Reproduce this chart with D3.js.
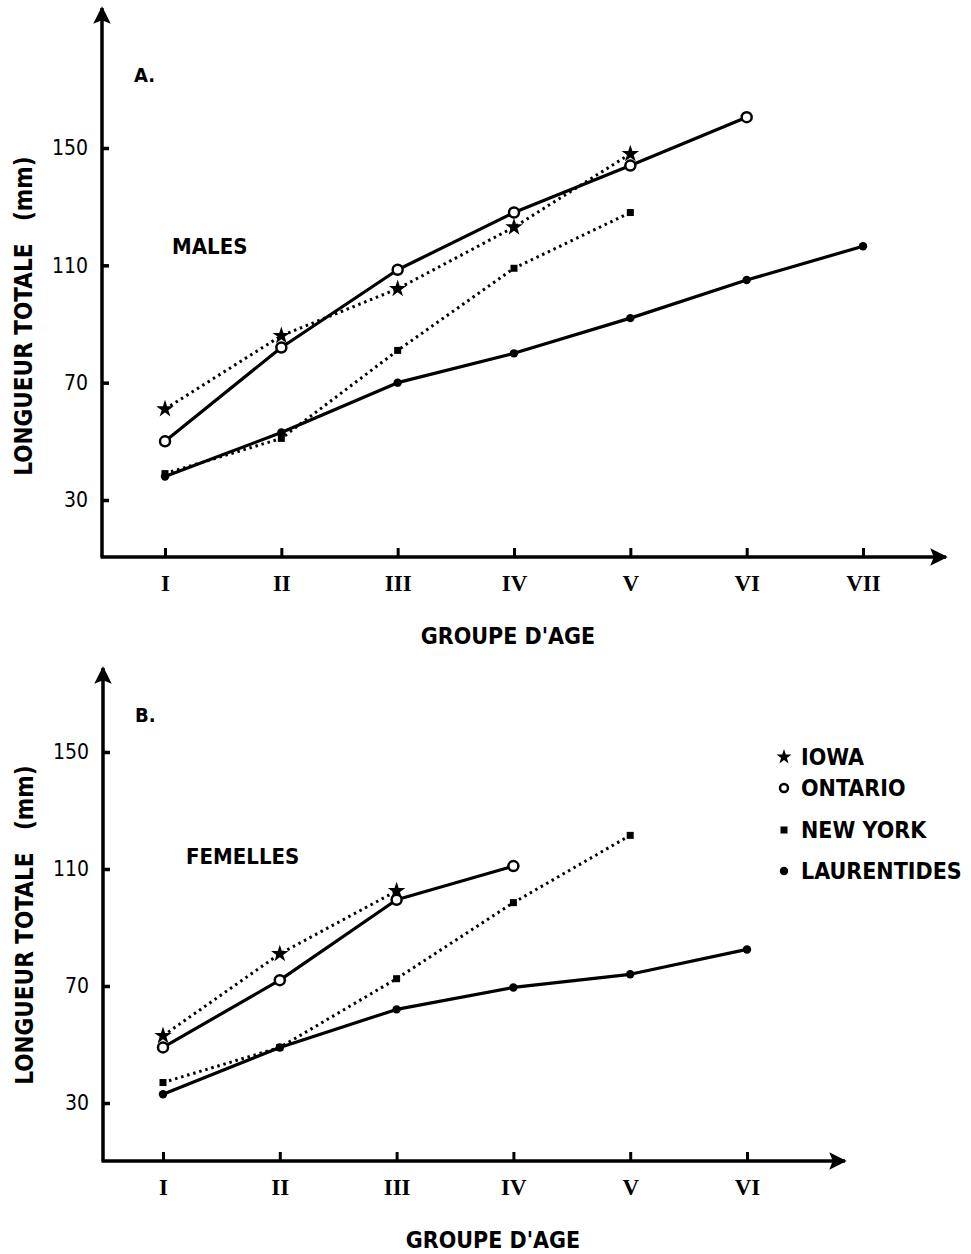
<!DOCTYPE html>
<html lang="fr">
<head>
<meta charset="UTF-8">
<title>Longueur totale par groupe d'age</title>
<script src="https://d3js.org/d3.v7.min.js"></script>
<style>
  body { margin: 0; background: #fff; }
  svg text { fill: #000; }
  .lab { font-family: "DejaVu Sans Condensed", "DejaVu Sans", sans-serif; font-stretch: condensed; font-weight: bold; }
  .roman { font-family: "Liberation Serif", "DejaVu Serif", serif; font-weight: bold; }
</style>
</head>
<body>
<div id="chart"></div>
<script>
// age groups
const groupsA = ["I", "II", "III", "IV", "V", "VI", "VII"];
const groupsB = ["I", "II", "III", "IV", "V", "VI"];
const yTicks = [30, 70, 110, 150];

// Males (mm), one value per age group
const malesIowa = [61, 86, 102, 123, 148];
const malesOntario = [50, 82, 108.5, 128, 144, 160.5];
const malesNewYork = [39, 51, 81, 109, 128];
const malesLaurentides = [38, 53, 70, 80, 92, 105, 116.5];

// Femelles (mm)
const femIowa = [53, 81, 102.5];
const femOntario = [49, 72, 99.5, 111];
const femNewYork = [37, 49, 72.5, 98.5, 121.5];
const femLaurentides = [33, 49, 62, 69.5, 74, 82.5];

const seriesNames = ["IOWA", "ONTARIO", "NEW YORK", "LAURENTIDES"];

const svg = d3.select("#chart").append("svg")
    .attr("width", 971)
    .attr("height", 1254);

svg.append("defs").append("marker")
    .attr("id", "arrow")
    .attr("viewBox", "0 0 10 10")
    .attr("refX", 9).attr("refY", 5)
    .attr("markerWidth", 5).attr("markerHeight", 5)
    .attr("markerUnits", "strokeWidth")
    .attr("orient", "auto")
  .append("path")
    .attr("d", "M0,0 L10,5 L0,10 L2,5 Z")
    .attr("fill", "#000");

const styles = {
    "IOWA": {dash: "2.5,3.8", solid: false, mark: "star"},
    "ONTARIO": {dash: null, solid: true, mark: "open"},
    "NEW YORK": {dash: "2.5,3.8", solid: false, mark: "square"},
    "LAURENTIDES": {dash: null, solid: true, mark: "dot"}
};

function drawMarker(g, type, cx, cy, small) {
    if (type === "star") {
        g.append("path")
            .attr("d", d3.symbol(d3.symbolStar, small ? 70 : 95)())
            .attr("transform", `translate(${cx},${cy})`)
            .attr("fill", "#000");
    } else if (type === "open") {
        g.append("circle").attr("cx", cx).attr("cy", cy).attr("r", small ? 4 : 5)
            .attr("fill", "#fff").attr("stroke", "#000").attr("stroke-width", 2.5);
    } else if (type === "square") {
        g.append("rect").attr("x", cx - 3.5).attr("y", cy - 3.5)
            .attr("width", 7).attr("height", 7).attr("fill", "#000");
    } else {
        g.append("circle").attr("cx", cx).attr("cy", cy).attr("r", 4.2).attr("fill", "#000");
    }
}

function panel(cfg) {
    const g = svg.append("g");
    const x = d3.scaleLinear().domain([0, cfg.groups.length - 1]).range(cfg.xRange);
    const y = d3.scaleLinear().domain([30, 150]).range(cfg.yRange);

    // y axis with arrow
    g.append("line")
        .attr("x1", cfg.axisX).attr("y1", cfg.axisY)
        .attr("x2", cfg.axisX).attr("y2", cfg.yTop)
        .attr("stroke", "#000").attr("stroke-width", 3.5)
        .attr("marker-end", "url(#arrow)");
    // x axis with arrow
    g.append("line")
        .attr("x1", cfg.axisX - 1.5).attr("y1", cfg.axisY)
        .attr("x2", cfg.xEnd).attr("y2", cfg.axisY)
        .attr("stroke", "#000").attr("stroke-width", 3.5)
        .attr("marker-end", "url(#arrow)");

    const yAxis = g.append("g")
        .attr("transform", `translate(${cfg.axisX},0)`)
        .call(d3.axisLeft(y).tickValues(yTicks).tickSizeInner(-7).tickSizeOuter(0).tickPadding(14));
    yAxis.select(".domain").remove();
    yAxis.selectAll("line").attr("stroke-width", 3.5);
    yAxis.selectAll("text")
        .style("font-size", "21px")
        .style("font-family", "'DejaVu Sans', sans-serif")
        .style("font-stretch", "condensed");

    const xAxis = g.append("g")
        .attr("transform", `translate(0,${cfg.axisY})`)
        .call(d3.axisBottom(x).tickValues(d3.range(cfg.groups.length))
            .tickFormat(i => cfg.groups[i]).tickSizeInner(-9).tickSizeOuter(0).tickPadding(18));
    xAxis.select(".domain").remove();
    xAxis.selectAll("line").attr("stroke-width", 3);
    xAxis.selectAll("text")
        .attr("class", "roman")
        .style("font-size", "23px");

    // y axis title
    g.append("text")
        .attr("class", "lab")
        .attr("transform", `translate(${cfg.axisX - 78},${cfg.titleY}) rotate(-90)`)
        .attr("text-anchor", "middle")
        .attr("dy", "0.35em")
        .style("font-size", "24px")
        .style("white-space", "pre")
        .text("LONGUEUR TOTALE   (mm)");

    // x axis title
    g.append("text")
        .attr("class", "lab")
        .attr("x", cfg.xTitleX).attr("y", cfg.axisY + 87)
        .attr("text-anchor", "middle")
        .style("font-size", "23px")
        .text("GROUPE D'AGE");

    g.append("text").attr("class", "lab")
        .attr("x", cfg.axisX + 32).attr("y", cfg.letterY)
        .style("font-size", "20px").text(cfg.letter);
    g.append("text").attr("class", "lab")
        .attr("x", cfg.nameX).attr("y", cfg.nameY)
        .style("font-size", "22px").text(cfg.name);

    const line = d3.line()
        .x((d, i) => x(i))
        .y(d => y(d));
    cfg.series.forEach((vals, k) => {
        const st = styles[seriesNames[k]];
        g.append("path")
            .datum(vals)
            .attr("fill", "none")
            .attr("stroke", "#000")
            .attr("stroke-width", st.solid ? 3.2 : 3)
            .attr("stroke-linejoin", "round")
            .attr("stroke-dasharray", st.dash)
            .attr("d", line);
    });
    // markers on top
    cfg.series.forEach((vals, k) => {
        const st = styles[seriesNames[k]];
        vals.forEach((v, i) => drawMarker(g, st.mark, x(i), y(v)));
    });
}

panel({
    groups: groupsA,
    series: [malesIowa, malesOntario, malesNewYork, malesLaurentides],
    xRange: [165, 863], yRange: [500, 148],
    axisX: 102, axisY: 557, yTop: 8, xEnd: 946,
    titleY: 316, xTitleX: 508,
    letter: "A.", letterY: 82, name: "MALES", nameX: 172, nameY: 254
});

panel({
    groups: groupsB,
    series: [femIowa, femOntario, femNewYork, femLaurentides],
    xRange: [163, 747], yRange: [1103, 752],
    axisX: 103, axisY: 1161, yTop: 668, xEnd: 845,
    titleY: 925, xTitleX: 493,
    letter: "B.", letterY: 722, name: "FEMELLES", nameX: 186, nameY: 864
});

// legend
const legY = [757, 788, 830, 871];
const leg = svg.append("g");
seriesNames.forEach((n, k) => {
    drawMarker(leg, styles[n].mark, 784, legY[k], true);
    leg.append("text")
        .attr("class", "lab")
        .attr("x", 801).attr("y", legY[k])
        .attr("dy", "0.35em")
        .style("font-size", "23px")
        .text(n);
});
</script>
</body>
</html>
